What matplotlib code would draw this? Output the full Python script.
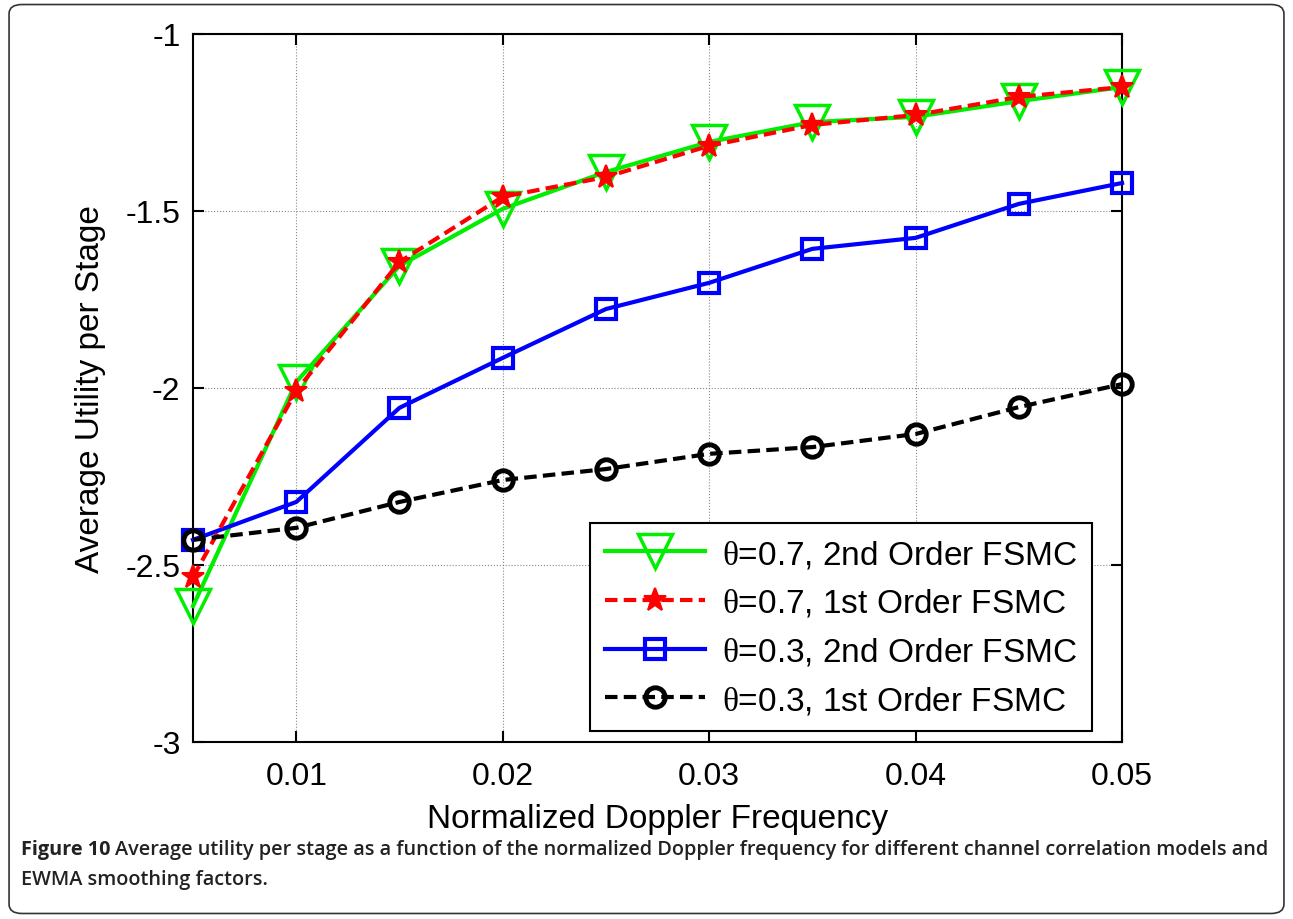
import matplotlib
matplotlib.use("Agg")
import matplotlib.pyplot as plt
from matplotlib.patches import FancyBboxPatch

# data
doppler = [0.005, 0.01, 0.015, 0.02, 0.025, 0.03, 0.035, 0.04, 0.045, 0.05]
th07_2nd = [-2.616, -1.983, -1.655, -1.494, -1.390, -1.305, -1.249, -1.234, -1.190, -1.150]
th07_1st = [-2.534, -2.008, -1.644, -1.460, -1.404, -1.316, -1.257, -1.229, -1.178, -1.150]
th03_2nd = [-2.429, -2.322, -2.056, -1.915, -1.777, -1.703, -1.607, -1.576, -1.480, -1.421]
th03_1st = [-2.429, -2.395, -2.322, -2.260, -2.229, -2.186, -2.167, -2.130, -2.054, -1.989]

xticks = [0.01, 0.02, 0.03, 0.04, 0.05]
xticklabels = ["0.01", "0.02", "0.03", "0.04", "0.05"]
yticks = [-3, -2.5, -2, -1.5, -1]
yticklabels = ["-3", "-2.5", "-2", "-1.5", "-1"]

cap_head = 'Figure 10 '
cap_line1 = 'Average utility per stage as a function of the normalized Doppler frequency for different channel correlation models and'
cap_line2 = 'EWMA smoothing factors.'

plt.rcParams['font.family'] = ['Liberation Sans', 'DejaVu Sans']
plt.rcParams['mathtext.fontset'] = 'custom'
plt.rcParams['mathtext.rm'] = 'Liberation Serif'

fig = plt.figure(figsize=(12.93, 9.2), dpi=100)
ax = fig.add_axes([0.1493, 0.1924, 0.7185, 0.7696])

ax.plot(doppler, th07_2nd, color='#00ee00', lw=3, marker='v', ms=25, mfc='none',
        mew=2.5, clip_on=False, zorder=3, label=r'$\mathrm{\theta}$=0.7, 2nd Order FSMC')
ax.plot(doppler, th07_1st, color='#ff0000', lw=3, ls=(0, (3, 1.5)), marker='*', ms=17,
        mew=1.5, clip_on=False, zorder=4, label=r'$\mathrm{\theta}$=0.7, 1st Order FSMC')
ax.plot(doppler, th03_2nd, color='#0000ff', lw=3, marker='s', ms=15, mfc='none',
        mew=3, clip_on=False, zorder=3, label=r'$\mathrm{\theta}$=0.3, 2nd Order FSMC')
ax.plot(doppler, th03_1st, color='black', lw=3, ls=(0, (3, 1.5)), marker='o', ms=14, mfc='none',
        mew=3.5, clip_on=False, zorder=4, label=r'$\mathrm{\theta}$=0.3, 1st Order FSMC')

ax.set_xlim(0.005, 0.05)
ax.set_ylim(-3, -1)
ax.set_xticks(xticks)
ax.set_xticklabels(xticklabels)
ax.set_yticks(yticks)
ax.set_yticklabels(yticklabels)
ax.tick_params(direction='in', labelsize=23, top=True, right=True, length=8, width=1.5)
ax.tick_params(axis='x', pad=14)
ax.tick_params(axis='y', pad=9)
ax.grid(True, color='#888888', ls=':', lw=0.8)
for s in ax.spines.values():
    s.set_linewidth(1.5)

ax.set_xlabel('Normalized Doppler Frequency', fontsize=24, labelpad=8)
ax.set_ylabel('Average Utility per Stage', fontsize=24, labelpad=14)

leg = ax.legend(loc='lower right', fontsize=24, fancybox=False, edgecolor='black',
                framealpha=1, handlelength=3.0, borderpad=0.45, labelspacing=0.5,
                handletextpad=0.5, borderaxespad=0, bbox_to_anchor=(0.9677, 0.0155))
leg.get_frame().set_linewidth(1.5)
leg.set_zorder(10)

# rounded border around the whole figure
fig.patches.append(FancyBboxPatch((0.007, 0.006), 0.986, 0.988,
                                  boxstyle='round,pad=0,rounding_size=0.01',
                                  transform=fig.transFigure, fill=False,
                                  edgecolor='#333333', lw=1.2))

# caption: bold head, semibold body, scaled so the first line spans the figure
cap_font = ['Open Sans', 'Liberation Sans', 'DejaVu Sans']
renderer = fig.canvas.get_renderer()
fs = 14
t_head = fig.text(0.016, 0.076, cap_head, fontsize=fs, weight='bold', va='center',
                  family=cap_font, color='#222222')
t_body = fig.text(0.1, 0.076, cap_line1, fontsize=fs, weight='semibold', va='center',
                  family=cap_font, color='#222222')
w = t_head.get_window_extent(renderer).width + t_body.get_window_extent(renderer).width
fs = fs * 1255 / w
t_head.set_fontsize(fs)
t_body.set_fontsize(fs)
head_w = t_head.get_window_extent(renderer).width
t_body.set_x(0.016 + head_w / fig.bbox.width)
fig.text(0.016, 0.0435, cap_line2, fontsize=fs, weight='semibold', va='center',
         family=cap_font, color='#222222')

fig.savefig('out.png', dpi=100)
